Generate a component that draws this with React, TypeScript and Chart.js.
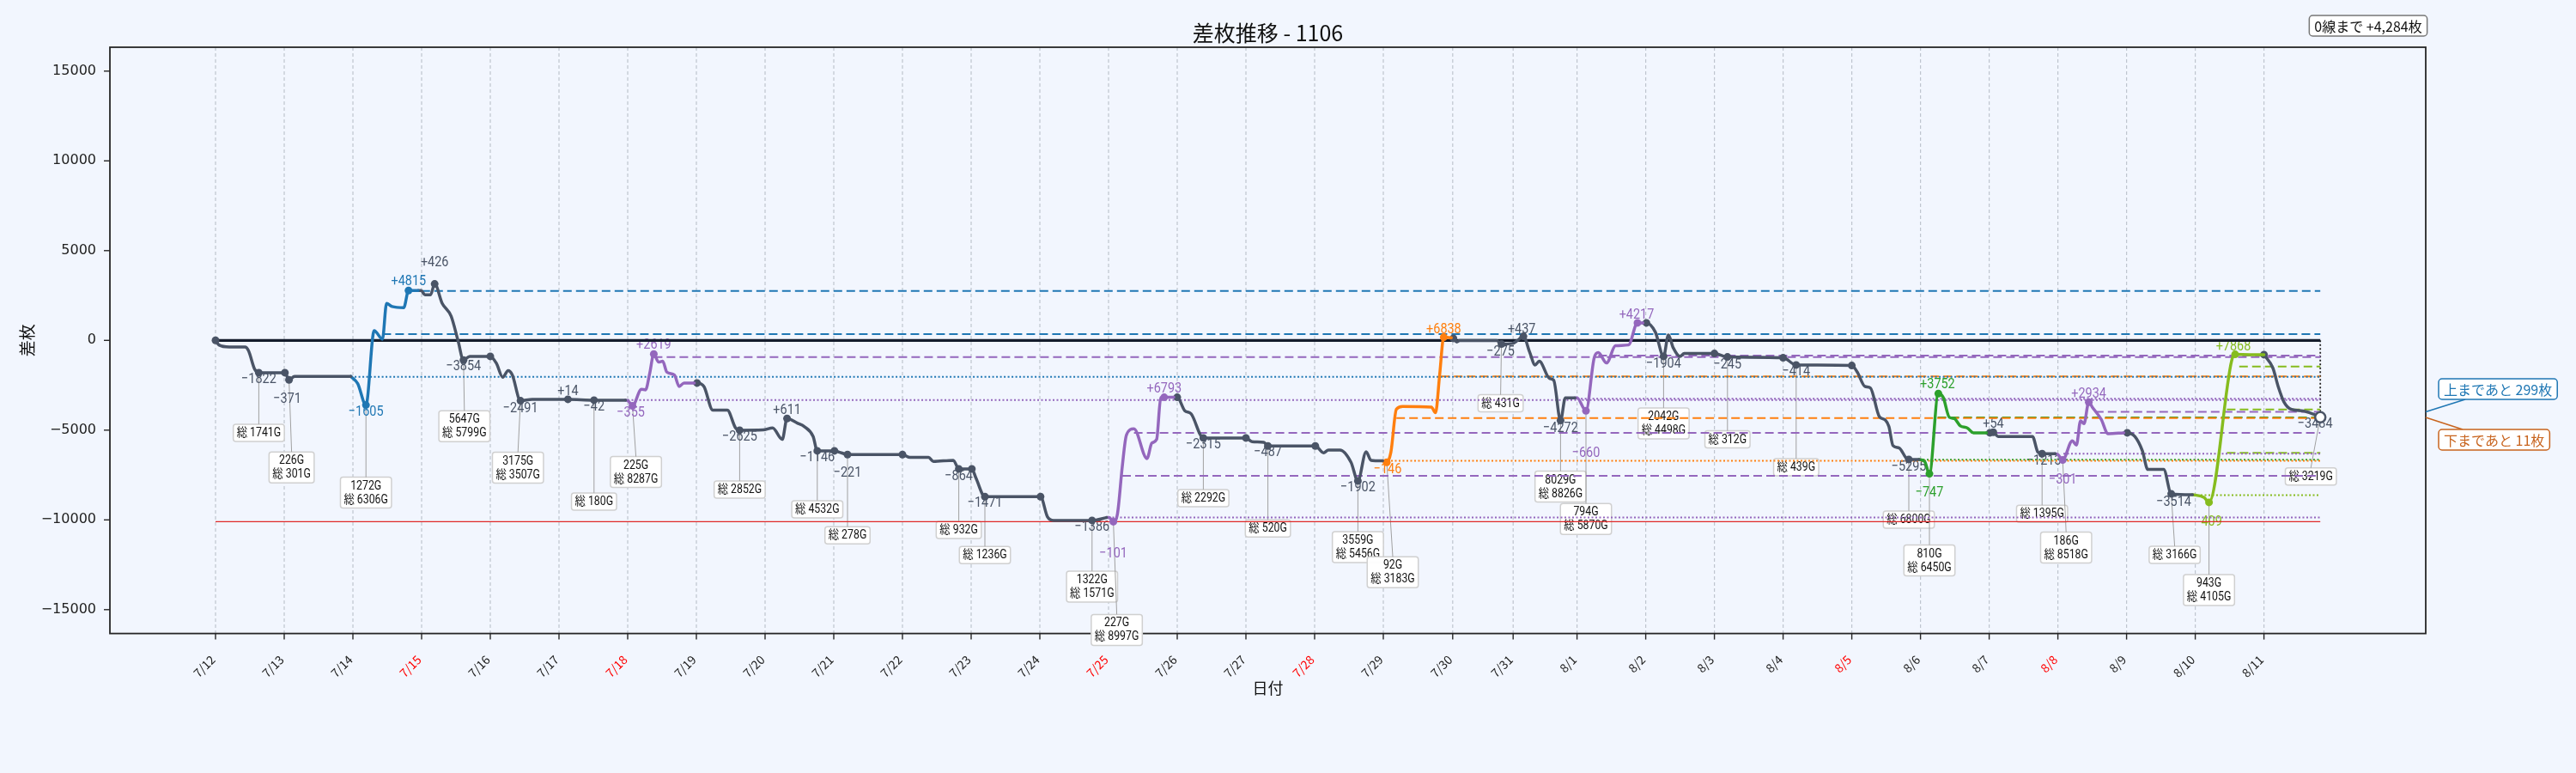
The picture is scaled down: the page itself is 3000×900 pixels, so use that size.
import React, { useEffect, useRef } from 'react';
import { Chart, registerables } from 'chart.js';
Chart.register(...registerables);

const BG = '#f2f6fe';
const COLORS: Record<string, string> = {
  grey: '#4a5466',
  blue: '#1f77b4',
  purple: '#9467bd',
  orange: '#ff7f0e',
  green: '#2ca02c',
  yg: '#86bc1e',
};
const JP = '"Noto Sans CJK JP", sans-serif';
const NUM = 'Roboto, "Noto Sans CJK JP", sans-serif';

// ---- axes ----
const X_MIN = -1.5375;
const X_MAX = 32.175;
const Y_MIN = -16330;
const Y_MAX = 16330;
const yTicks = [-15000, -10000, -5000, 0, 5000, 10000, 15000];
const dayTickX = [0, 1, 2, 3, 4, 5, 6, 7, 8, 9, 10, 11, 12, 13, 14, 15, 16, 17, 18.01, 18.89,
  19.82, 20.82, 21.82, 22.82, 23.82, 24.82, 25.82, 26.82, 27.82, 28.82, 29.82];
const dayLabels = ['7/12', '7/13', '7/14', '7/15', '7/16', '7/17', '7/18', '7/19', '7/20', '7/21',
  '7/22', '7/23', '7/24', '7/25', '7/26', '7/27', '7/28', '7/29', '7/30', '7/31',
  '8/1', '8/2', '8/3', '8/4', '8/5', '8/6', '8/7', '8/8', '8/9', '8/10', '8/11'];
const redDays = ['7/15', '7/18', '7/25', '7/28', '8/5', '8/8'];

// ---- series segments: [x(day), 差枚, marker] ----
const segA = [[0, 0, 1], [0.05, -254], [0.2, -364], [0.43, -364], [0.48, -569], [0.57, -1608], [0.63, -1799, 1], [1.01, -1799, 1], [1.07, -2196, 1], [1.15, -2005], [1.97, -2005]];
const segB = [[1.97, -2005], [2.07, -2407], [2.19, -3603, 1], [2.31, 545], [2.43, 67], [2.49, 2062], [2.57, 1885], [2.74, 1823], [2.81, 2780, 1], [2.95, 2780]];
const segC = [[2.95, 2780], [2.99, 2780], [3.05, 2541], [3.13, 2541], [3.19, 3144, 1], [3.3, 2062], [3.43, 1345], [3.53, -14], [3.61, -1096, 1], [3.7, -890], [4.0, -890, 1], [4.09, -1287], [4.18, -2053], [4.26, -1689], [4.32, -1928], [4.44, -3364, 1], [4.61, -3283], [5.13, -3283, 1], [5.51, -3330, 1], [5.97, -3330]];
const segD = [[5.97, -3330], [6.01, -3378], [6.07, -3651, 1], [6.2, -2723], [6.26, -2756], [6.32, -1847], [6.38, -761, 1], [6.45, -1211], [6.51, -1163], [6.57, -1766], [6.68, -1928], [6.75, -2565], [6.82, -2373], [6.97, -2373]];
const segE = [[6.97, -2373], [7.01, -2373, 1], [7.11, -2565], [7.24, -3890], [7.45, -3890], [7.57, -4876], [7.63, -5005, 1], [7.97, -4991], [8.11, -4876], [8.25, -5517], [8.32, -4350, 1], [8.47, -4608], [8.57, -4799], [8.7, -5354], [8.76, -6154, 1], [9.01, -6154, 1], [9.11, -6264], [9.2, -6359, 1], [10.0, -6359, 1], [10.11, -6522], [10.38, -6522], [10.45, -6744], [10.74, -6680], [10.82, -7158, 1], [11.01, -7158, 1], [11.07, -7670], [11.2, -8704, 1], [12.01, -8704, 1], [12.11, -9824], [12.2, -10030], [12.76, -10030, 1], [12.97, -9871]];
const segF = [[12.97, -9871], [13.01, -9871], [13.07, -10100, 1], [13.13, -9661], [13.2, -7029], [13.26, -5278], [13.37, -4924], [13.56, -6584], [13.63, -5723], [13.7, -5517], [13.76, -3201], [13.81, -3172, 1], [13.95, -3172]];
const segG = [[13.95, -3172], [14.0, -3172, 1], [14.11, -3919], [14.2, -4082], [14.38, -5436, 1], [15.0, -5436, 1], [15.09, -5641], [15.26, -5675], [15.32, -5881, 1], [16.01, -5881, 1], [16.13, -6264], [16.2, -6106], [16.37, -6106], [16.53, -6790], [16.63, -7828, 1], [16.75, -6201], [16.82, -6680], [16.99, -6713]];
const segH = [[16.99, -6713], [17.05, -6790, 1], [17.11, -6235], [17.19, -3842], [17.28, -3680], [17.7, -3713], [17.76, -4034], [17.82, -1928], [17.88, 177, 1], [17.99, 148]];
const segI = [[17.99, 148], [18.02, 115, 1], [18.07, -91], [18.11, -14], [18.65, -14], [18.72, -206, 1], [18.88, -172], [18.95, -14], [19.04, 225, 1], [19.13, -651], [19.21, -1369], [19.27, -1163], [19.42, -2120], [19.48, -2215], [19.58, -4464, 1], [19.65, -3201], [19.79, -3201]];
const segJ = [[19.79, -3201], [19.82, -3201], [19.95, -3919, 1], [20.07, -971], [20.13, -684], [20.25, -1258], [20.38, -301], [20.57, -254], [20.7, 976, 1], [20.78, 976]];
const segK = [[20.78, 976], [20.83, 976, 1], [20.96, 464], [21.08, -890, 1], [21.15, 306], [21.22, -412], [21.32, -890], [21.38, -732], [21.82, -732, 1], [22.01, -924, 1], [22.82, -971, 1], [23.01, -1369, 1], [23.82, -1402, 1], [23.9, -1766], [24.01, -2565], [24.09, -2646], [24.22, -4240], [24.31, -4445], [24.36, -4799], [24.42, -5866], [24.51, -5996], [24.61, -6551], [24.65, -6632, 1], [24.8, -6632]];
const segL = [[24.8, -6632], [24.88, -6742], [24.95, -7431, 1], [25.08, -2962, 1], [25.15, -3172], [25.24, -4287], [25.31, -4350], [25.4, -4766], [25.5, -4876], [25.59, -5149], [25.78, -5149]];
const segM = [[25.78, -5149], [25.83, -5149, 1], [25.88, -5115, 1], [25.95, -5354], [26.45, -5354], [26.53, -6235], [26.59, -6311, 1], [26.78, -6311]];
const segN = [[26.78, -6311], [26.82, -6359], [26.89, -6666, 1], [27.03, -5594], [27.09, -5833], [27.15, -4479], [27.2, -4637], [27.27, -3440, 1], [27.32, -3713], [27.45, -4397], [27.55, -5197], [27.78, -5149]];
const segO = [[27.78, -5149], [27.83, -5149, 1], [27.94, -5354], [28.05, -6154], [28.13, -7192], [28.36, -7192], [28.47, -8546, 1], [28.78, -8594]];
const segP = [[28.78, -8594], [28.95, -8752], [29.02, -9025, 1], [29.35, -1129], [29.4, -780, 1], [29.61, -794], [29.82, -794]];
const segQ = [[29.82, -794, 1], [29.95, -1541], [30.03, -2608], [30.11, -3421], [30.22, -3847], [30.39, -3933], [30.53, -4096], [30.64, -4284]];

const segments: [number[][], string][] = [
  [segA, 'grey'], [segB, 'blue'], [segC, 'grey'], [segD, 'purple'], [segE, 'grey'], [segF, 'purple'],
  [segG, 'grey'], [segH, 'orange'], [segI, 'grey'], [segJ, 'purple'], [segK, 'grey'], [segL, 'green'],
  [segM, 'grey'], [segN, 'purple'], [segO, 'grey'], [segP, 'yg'], [segQ, 'grey'],
];

const startX = 0;
const finalX = 30.64;
const finalV = -4284;
const redLineV = -10100;

// ---- horizontal reference lines: [value, from x, colour, style] ----
const refLines: [number, number, string, string][] = [
  [2750, 2.81, 'blue', 'dash'],
  [354, 2.43, 'blue', 'dash'],
  [-2030, 1.97, 'blue', 'dot'],
  [-930, 6.38, 'purple', 'dash'],
  [-3320, 6.0, 'purple', 'dot'],
  [-9871, 13.0, 'purple', 'dot'],
  [-5149, 13.37, 'purple', 'dash'],
  [-7541, 13.2, 'purple', 'dash'],
  [-6713, 17.0, 'orange', 'dot'],
  [-4330, 17.19, 'orange', 'dash'],
  [-2005, 17.84, 'orange', 'dash'],
  [-3250, 19.82, 'purple', 'dot'],
  [-850, 20.13, 'purple', 'dash'],
  [-6650, 24.8, 'green', 'dot'],
  [-4295, 25.07, 'green', 'dash'],
  [-6311, 26.9, 'purple', 'dot'],
  [-3985, 27.36, 'purple', 'dash'],
  [-8620, 28.9, 'yg', 'dot'],
  [-6260, 29.28, 'yg', 'dash'],
  [-3850, 29.28, 'yg', 'dash'],
  [-1455, 29.46, 'yg', 'dash'],
];

// ---- point labels: [x, value, text, colour, dx, dy, box text, box dx, box dy] ----
const pointLabels: [number, number, string, string, number, number, string | null, number, number][] = [
  [0.63, -1799, '−1822', 'grey', 0, 8, '総 1741G', 0, 70],
  [1.07, -2196, '−371', 'grey', -2, 23, '226G\n総 301G', 3, 102],
  [2.19, -3603, '−1605', 'blue', 0, 8, '1272G\n総 6306G', 0, 102],
  [2.81, 2780, '+4815', 'blue', 0, -10, null, 0, 0],
  [3.19, 3144, '+426', 'grey', 0, -25, null, 0, 0],
  [3.61, -1096, '−3854', 'grey', 0, 8, '5647G\n総 5799G', 1, 77],
  [4.44, -3364, '−2491', 'grey', 0, 9, '3175G\n総 3507G', -3, 78],
  [5.13, -3283, '+14', 'grey', 0, -9, null, 0, 0],
  [5.51, -3330, '−42', 'grey', 0, 8, '総 180G', 0, 118],
  [6.07, -3651, '−355', 'purple', -2, 8, '225G\n総 8287G', 4, 77],
  [6.38, -761, '+2619', 'purple', 0, -10, null, 0, 0],
  [7.63, -5005, '−2625', 'grey', 0, 8, '総 2852G', 0, 69],
  [8.32, -4350, '+611', 'grey', 0, -9, null, 0, 0],
  [8.76, -6154, '−1146', 'grey', 0, 8, '総 4532G', 0, 68],
  [9.2, -6359, '−221', 'grey', 0, 22, '総 278G', 0, 94],
  [10.82, -7158, '−864', 'grey', 0, 9, '総 932G', 0, 71],
  [11.2, -8704, '−1471', 'grey', 0, 8, '総 1236G', 0, 68],
  [12.76, -10030, '−1386', 'grey', 0, 8, '1322G\n総 1571G', 0, 77],
  [13.07, -10100, '−101', 'purple', 0, 37, '227G\n総 8997G', 4, 126],
  [13.81, -3172, '+6793', 'purple', 0, -10, null, 0, 0],
  [14.38, -5436, '−2315', 'grey', 0, 8, '総 2292G', 0, 70],
  [15.32, -5881, '−487', 'grey', 0, 8, '総 520G', 0, 96],
  [16.63, -7828, '−1902', 'grey', 0, 8, '3559G\n総 5456G', 0, 77],
  [17.05, -6790, '−146', 'orange', 1, 9, '92G\n総 3183G', 7, 128],
  [17.88, 177, '+6838', 'orange', 0, -9, null, 0, 0],
  [18.72, -206, '−275', 'grey', -1, 9, '総 431G', -1, 69],
  [19.04, 225, '+437', 'grey', -2, -8, null, 0, 0],
  [19.58, -4464, '−4272', 'grey', 0, 9, '8029G\n総 8826G', 0, 77],
  [19.95, -3919, '−660', 'purple', 0, 50, '794G\n総 5870G', 0, 126],
  [20.7, 976, '+4217', 'purple', -1, -9, null, 0, 0],
  [21.08, -890, '−1904', 'grey', 0, 9, '2042G\n総 4498G', 0, 78],
  [22.01, -924, '−245', 'grey', 0, 9, '総 312G', 0, 96],
  [23.01, -1369, '−414', 'grey', 0, 8, '総 439G', 0, 119],
  [24.65, -6632, '−5295', 'grey', 0, 9, '総 6800G', 0, 70],
  [24.95, -7431, '−747', 'green', 0, 22, '810G\n総 6450G', 0, 101],
  [25.08, -2962, '+3752', 'green', -1, -10, null, 0, 0],
  [25.88, -5115, '+54', 'grey', 0, -9, null, 0, 0],
  [26.59, -6311, '−1213', 'grey', 2, 9, '総 1395G', 0, 70],
  [26.89, -6666, '−301', 'purple', 0, 23, '186G\n総 8518G', 4, 102],
  [27.27, -3440, '+2934', 'purple', 0, -9, null, 0, 0],
  [28.47, -8546, '−3514', 'grey', 3, 10, '総 3166G', 4, 71],
  [29.02, -9025, '409', 'yg', 3, 23, '943G\n総 4105G', 0, 102],
  [29.4, -780, '+7868', 'yg', -2, -9, null, 0, 0],
  [30.64, -4284, '−3484', 'grey', -6, 8, '総 3219G', -11, 69],
];

const titleText = '差枚推移 - 1106';
const xTitle = '日付';
const yTitle = '差枚';
const zeroNote = '0線まで +4,284枚';
const upNote = '上まであと 299枚';
const downNote = '下まであと 11枚';
const upLineV = -3985;
const downLineV = -4295;

function fmtY(v: number) {
  return v < 0 ? '−' + Math.abs(v) : String(v);
}

function condText(ctx: CanvasRenderingContext2D, text: string, x: number, y: number, sx: number) {
  ctx.save();
  ctx.translate(x, y);
  ctx.scale(sx, 1);
  ctx.fillText(text, 0, 0);
  ctx.restore();
}

function drawBox(ctx: CanvasRenderingContext2D, cx: number, cy: number, text: string) {
  const lines = text.split('\n');
  const sx = 0.88;
  ctx.font = `14px ${NUM}`;
  const w = Math.max(...lines.map((l) => ctx.measureText(l).width)) * sx + 8;
  const lh = 16;
  const h = lines.length * lh + 4;
  ctx.beginPath();
  ctx.roundRect(cx - w / 2, cy - h / 2, w, h, 3);
  ctx.fillStyle = 'rgba(255,255,255,0.95)';
  ctx.fill();
  ctx.strokeStyle = '#d0d0d0';
  ctx.lineWidth = 1.5;
  ctx.stroke();
  ctx.fillStyle = '#111';
  ctx.textAlign = 'center';
  ctx.textBaseline = 'middle';
  lines.forEach((l, i) => condText(ctx, l, cx, cy - h / 2 + 2 + lh * (i + 0.5) + 0.5, sx));
  return cy - h / 2;
}

function noteBox(ctx: CanvasRenderingContext2D, x0: number, cy: number, text: string, color: string, border: string, align: 'left' | 'center') {
  ctx.font = `16px ${JP}`;
  const w = ctx.measureText(text).width + 12;
  const h = 24;
  const left = align === 'left' ? x0 : x0 - w / 2;
  ctx.beginPath();
  ctx.roundRect(left, cy - h / 2, w, h, 4);
  ctx.fillStyle = '#ffffff';
  ctx.fill();
  ctx.strokeStyle = border;
  ctx.lineWidth = 1.5;
  ctx.stroke();
  ctx.fillStyle = color;
  ctx.textAlign = 'left';
  ctx.textBaseline = 'middle';
  ctx.fillText(text, left + 6, cy + 1);
}

const overlay = {
  id: 'overlay',
  beforeDatasetsDraw(chart: any) {
    const { ctx, chartArea: ca, scales } = chart;
    const xs = scales.x;
    const ys = scales.y;
    ctx.save();
    // vertical day grid
    ctx.strokeStyle = 'rgba(150,156,168,0.55)';
    ctx.lineWidth = 1.2;
    ctx.setLineDash([4, 3]);
    for (const t of dayTickX) {
      const px = xs.getPixelForValue(t);
      ctx.beginPath();
      ctx.moveTo(px, ca.top);
      ctx.lineTo(px, ca.bottom);
      ctx.stroke();
    }
    ctx.setLineDash([]);
    // frame
    ctx.strokeStyle = '#262626';
    ctx.lineWidth = 1.8;
    ctx.strokeRect(ca.left, ca.top, ca.right - ca.left, ca.bottom - ca.top);
    // tick marks and rotated date labels
    ctx.lineWidth = 1.4;
    dayTickX.forEach((t, i) => {
      const px = xs.getPixelForValue(t);
      ctx.beginPath();
      ctx.moveTo(px, ca.bottom);
      ctx.lineTo(px, ca.bottom + 7);
      ctx.stroke();
      ctx.save();
      ctx.translate(px - 3, ca.bottom + 28);
      ctx.rotate(-Math.PI / 4);
      ctx.font = `14px ${JP}`;
      ctx.textAlign = 'right';
      ctx.textBaseline = 'middle';
      ctx.fillStyle = redDays.includes(dayLabels[i]) ? '#ff0000' : '#222';
      ctx.fillText(dayLabels[i], 0, 0);
      ctx.restore();
    });
    for (const t of yTicks) {
      const py = ys.getPixelForValue(t);
      ctx.beginPath();
      ctx.moveTo(ca.left, py);
      ctx.lineTo(ca.left - 7, py);
      ctx.stroke();
    }
    // label boxes and leader lines
    for (const [xv, v, , , , , box, bdx, bdy] of pointLabels) {
      if (!box) continue;
      const px = xs.getPixelForValue(xv);
      const py = ys.getPixelForValue(v);
      const lines = box.split('\n').length;
      const h = lines * 16 + 4;
      const top = py + bdy - h / 2;
      drawBox(ctx, px + bdx, py + bdy, box);
      ctx.strokeStyle = '#a0a0a0';
      ctx.lineWidth = 1;
      ctx.beginPath();
      ctx.moveTo(px, py);
      ctx.lineTo(px + bdx, top);
      ctx.stroke();
    }
    // value labels (drawn beneath the lines)
    ctx.font = `17px ${NUM}`;
    ctx.textAlign = 'center';
    ctx.textBaseline = 'middle';
    for (const [xv, v, text, ck, dx, dy] of pointLabels) {
      ctx.fillStyle = COLORS[ck];
      condText(ctx, text, xs.getPixelForValue(xv) + dx, ys.getPixelForValue(v) + dy, 0.85);
    }
    ctx.restore();
  },
  afterDraw(chart: any) {
    const { ctx, chartArea: ca, scales } = chart;
    const ys = scales.y;
    ctx.save();
    ctx.fillStyle = '#111';
    ctx.textAlign = 'center';
    ctx.textBaseline = 'middle';
    ctx.font = `25px ${JP}`;
    ctx.fillText(titleText, (ca.left + ca.right) / 2, 38);
    ctx.font = `18px ${JP}`;
    ctx.fillText(xTitle, (ca.left + ca.right) / 2, 801);
    ctx.save();
    ctx.translate(32, (ca.top + ca.bottom) / 2);
    ctx.rotate(-Math.PI / 2);
    ctx.font = `19px ${JP}`;
    ctx.fillText(yTitle, 0, 0);
    ctx.restore();
    // zero-line distance note
    noteBox(ctx, 2758, 30, zeroNote, '#111', '#777', 'center');
    // up / down notes
    const yUp = ys.getPixelForValue(upLineV);
    const yDown = ys.getPixelForValue(downLineV);
    ctx.lineWidth = 1.5;
    ctx.strokeStyle = COLORS.blue;
    ctx.beginPath();
    ctx.moveTo(ca.right, yUp);
    ctx.lineTo(2871, 465);
    ctx.stroke();
    ctx.strokeStyle = '#c8641e';
    ctx.beginPath();
    ctx.moveTo(ca.right, yDown);
    ctx.lineTo(2868, 500);
    ctx.stroke();
    noteBox(ctx, 2840, 453, upNote, COLORS.blue, COLORS.blue, 'left');
    noteBox(ctx, 2840, 512, downNote, '#c8641e', '#c8641e', 'left');
    ctx.restore();
  },
};

export default function App() {
  const ref = useRef<HTMLCanvasElement>(null);
  useEffect(() => {
    const datasets: any[] = [];
    segments.forEach(([pts, ck]) => {
      datasets.push({
        data: pts.map((p) => ({ x: p[0], y: p[1], m: p[2] || 0 })),
        borderColor: COLORS[ck],
        backgroundColor: COLORS[ck],
        borderWidth: 3.5,
        cubicInterpolationMode: 'monotone',
        pointRadius: (c: any) => (c.raw && c.raw.m ? 4.5 : 0),
        pointBorderWidth: 0,
        pointBackgroundColor: COLORS[ck],
        borderCapStyle: 'round',
        borderJoinStyle: 'round',
        order: 1,
      });
    });
    datasets.push({
      data: [{ x: finalX, y: finalV }],
      showLine: false,
      pointRadius: 6,
      pointBackgroundColor: '#ffffff',
      pointBorderColor: COLORS.grey,
      pointBorderWidth: 2.5,
      order: 0,
    });
    datasets.push({
      data: [{ x: startX, y: 0 }, { x: finalX, y: 0 }],
      borderColor: '#141c2c',
      borderWidth: 3.2,
      pointRadius: 0,
      order: 3,
    });
    datasets.push({
      data: [{ x: finalX, y: 0 }, { x: finalX, y: finalV }],
      borderColor: '#222',
      borderWidth: 1.8,
      borderDash: [2, 2.5],
      pointRadius: 0,
      order: 3,
    });
    datasets.push({
      data: [{ x: startX, y: redLineV }, { x: finalX, y: redLineV }],
      borderColor: '#e02828',
      borderWidth: 1.2,
      pointRadius: 0,
      order: 2,
    });
    refLines.forEach(([v, x0, ck, st]) => {
      datasets.push({
        data: [{ x: x0, y: v }, { x: finalX, y: v }],
        borderColor: COLORS[ck],
        borderWidth: 2,
        borderDash: st === 'dash' ? [10, 5] : [2, 2.5],
        pointRadius: 0,
        order: 2,
      });
    });

    const chart = new Chart(ref.current as HTMLCanvasElement, {
      type: 'line',
      data: { datasets },
      options: {
        animation: false,
        responsive: false,
        devicePixelRatio: 1,
        events: [],
        layout: { padding: { left: 0, right: 175, top: 55, bottom: 0 } },
        plugins: {
          legend: { display: false },
          title: { display: false },
          tooltip: { enabled: false },
        },
        scales: {
          x: {
            type: 'linear',
            min: X_MIN,
            max: X_MAX,
            grid: { display: false, drawTicks: false },
            border: { display: false },
            afterBuildTicks: (s: any) => {
              s.ticks = dayTickX.map((v) => ({ value: v }));
            },
            afterFit: (s: any) => {
              s.height = 162.4;
            },
            ticks: {
              display: false,
              autoSkip: false,
              callback: (_v: any, i: number) => dayLabels[i],
            },
          },
          y: {
            type: 'linear',
            min: Y_MIN,
            max: Y_MAX,
            grid: { display: false, drawTicks: false },
            border: { display: false },
            afterBuildTicks: (s: any) => {
              s.ticks = yTicks.map((v) => ({ value: v }));
            },
            afterFit: (s: any) => {
              s.width = 128;
            },
            ticks: {
              padding: 16,
              font: { family: '"DejaVu Sans", sans-serif', size: 16 },
              color: '#222',
              callback: (v: any) => fmtY(Number(v)),
            },
          },
        },
      },
      plugins: [overlay as any],
    });
    return () => chart.destroy();
  }, []);
  return (
    <div style={{ position: 'absolute', left: 0, top: 0, width: 3000, height: 900, background: BG }}>
      <canvas ref={ref} width={3000} height={900} style={{ display: 'block', width: 3000, height: 900 }} />
    </div>
  );
}
